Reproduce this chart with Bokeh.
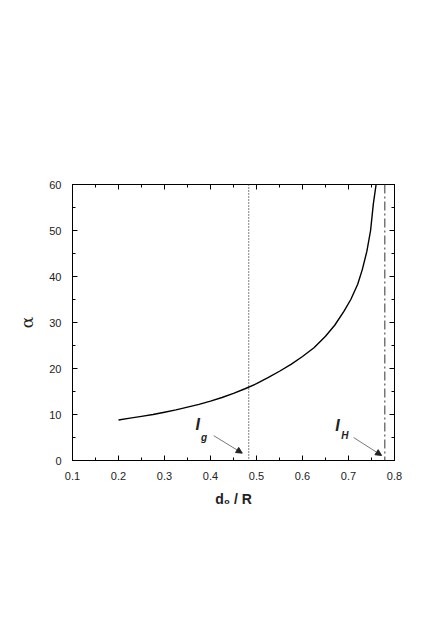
from bokeh.plotting import figure
from bokeh.models import (Range1d, LinearAxis, SingleIntervalTicker, Span, Arrow,
                          NormalHead, Label, CustomJSTickFormatter)
from bokeh.embed import file_html
from bokeh.resources import INLINE

# ---- data ----
d_ratio = [0.200, 0.225, 0.250, 0.275, 0.300, 0.325, 0.350, 0.375, 0.400,
           0.425, 0.450, 0.475, 0.500, 0.525, 0.550, 0.575, 0.600, 0.625,
           0.650, 0.670, 0.690, 0.705, 0.720, 0.730, 0.740, 0.748, 0.754, 0.760]
alpha = [8.8, 9.2, 9.6, 10.0, 10.5, 11.0, 11.6, 12.2, 12.9,
         13.7, 14.6, 15.6, 16.7, 18.0, 19.4, 20.9, 22.6, 24.5,
         27.0, 29.4, 32.4, 35.0, 38.3, 41.5, 45.5, 50.0, 55.8, 60.0]

I_g = 0.483      # dotted vertical line
I_H = 0.779      # dash-dot vertical line

x_range = (0.1, 0.8)
y_range = (0, 60)
x_tick_step = 0.1
y_tick_step = 10

FONT = "Liberation Sans"
INK = "#222222"

p = figure(frame_width=322, frame_height=276,
           min_border_left=72, min_border_top=184,
           min_border_right=34, min_border_bottom=140,
           x_range=Range1d(*x_range), y_range=Range1d(*y_range),
           output_backend="svg", toolbar_location=None,
           x_axis_location=None, y_axis_location=None)
p.background_fill_color = "white"
p.border_fill_color = "white"
p.outline_line_color = "black"
p.outline_line_width = 1
p.xgrid.visible = False
p.ygrid.visible = False

blank = CustomJSTickFormatter(code="return ''")

def style(ax, show_labels):
    ax.axis_line_color = "black"
    ax.major_tick_in = 5
    ax.major_tick_out = 0
    ax.minor_tick_in = 3
    ax.minor_tick_out = 0
    ax.major_tick_line_color = "black"
    ax.minor_tick_line_color = "black"
    ax.major_label_text_font = FONT
    ax.major_label_text_font_size = "11px"
    ax.major_label_text_color = INK
    if not show_labels:
        ax.formatter = blank

bottom = LinearAxis(ticker=SingleIntervalTicker(interval=x_tick_step, num_minor_ticks=2))
style(bottom, True)
bottom.major_label_standoff = 11
bottom.axis_label = "d₀ / R"
bottom.axis_label_text_font = FONT
bottom.axis_label_text_font_style = "bold"
bottom.axis_label_text_font_size = "14px"
bottom.axis_label_text_color = INK
bottom.axis_label_standoff = 8
p.add_layout(bottom, "below")

top = LinearAxis(ticker=SingleIntervalTicker(interval=x_tick_step, num_minor_ticks=2))
style(top, False)
p.add_layout(top, "above")

left = LinearAxis(ticker=SingleIntervalTicker(interval=y_tick_step, num_minor_ticks=2))
style(left, True)
left.major_label_standoff = 11
left.axis_label = "α"
left.axis_label_text_font = "DejaVu Serif"
left.axis_label_text_font_style = "normal"
left.axis_label_text_font_size = "17px"
left.axis_label_text_color = INK
left.axis_label_standoff = 9
p.add_layout(left, "left")

right = LinearAxis(ticker=SingleIntervalTicker(interval=y_tick_step, num_minor_ticks=2))
style(right, False)
p.add_layout(right, "right")

# curve
p.line(d_ratio, alpha, line_color="black", line_width=1.4)

# vertical reference lines
p.add_layout(Span(location=I_g, dimension="height", line_color="#333333",
                  line_width=1.2, line_dash="1 2"))
p.add_layout(Span(location=I_H, dimension="height", line_color="#333333",
                  line_width=1, line_dash="9 3 2 3"))

# arrows
for (xs, ys, xe, ye) in [(0.407, 5.4, 0.469, 1.6), (0.711, 5.0, 0.772, 1.1)]:
    p.add_layout(Arrow(x_start=xs, y_start=ys, x_end=xe, y_end=ye,
                       line_color="#555555", line_width=0.8,
                       end=NormalHead(size=6, fill_color="#222222",
                                      line_color="#222222")))

# I_g and I_H labels
def lab(x, y, t, size):
    p.add_layout(Label(x=x, y=y, text=t, text_font=FONT, text_font_size=size,
                       text_font_style="bold italic", text_color=INK,
                       text_align="center", text_baseline="middle"))

lab(0.372, 7.9, "I", "16px")
lab(0.386, 5.1, "g", "10px")
lab(0.676, 7.7, "I", "16px")
lab(0.692, 5.5, "H", "10px")

open("out.html", "w").write(file_html(p, INLINE))
